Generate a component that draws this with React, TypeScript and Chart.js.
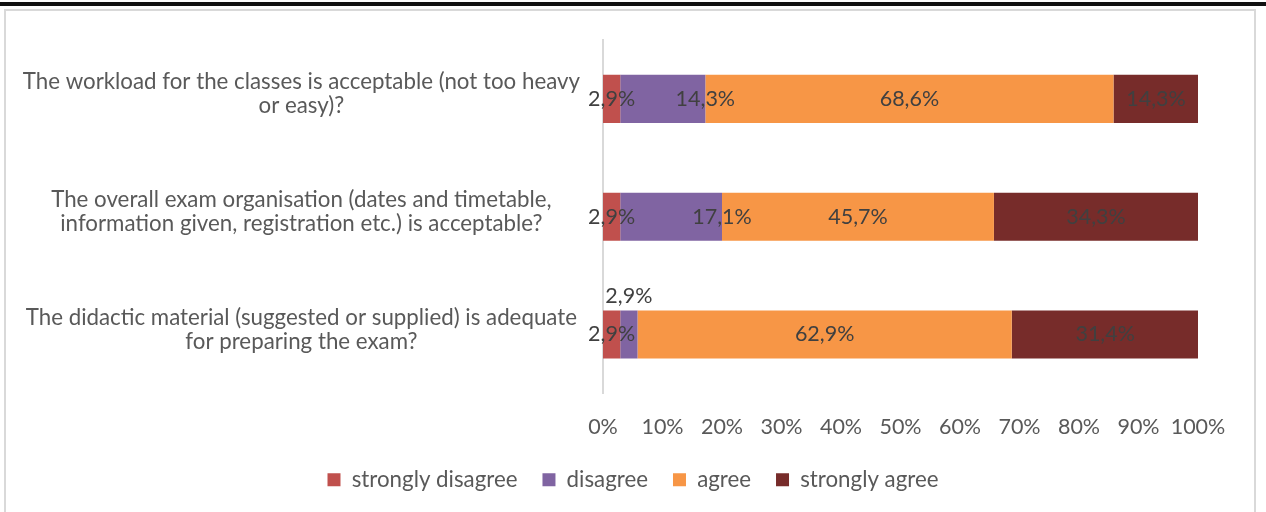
import React, { useEffect, useRef } from "react";
import { Chart, registerables } from "chart.js";

Chart.register(...registerables);

const categories: string[][] = [
  ["The workload for the classes is acceptable (not too heavy", "or easy)?"],
  ["The overall exam organisation (dates and timetable,", "information given, registration etc.) is acceptable?"],
  ["The didactic material (suggested or supplied) is adequate", "for preparing the exam?"],
];
const stronglyDisagree = [2.9, 2.9, 2.9];
const disagree = [14.3, 17.1, 2.9];
const agree = [68.6, 45.7, 62.9];
const stronglyAgree = [14.3, 34.3, 31.4];
const seriesNames = ["strongly disagree", "disagree", "agree", "strongly agree"];
const seriesColors = ["#C0504D", "#8064A2", "#F79646", "#772C2A"];

const FONT = "Lato";
const TEXT = "#595959";
const LABEL = "#404040";
const AXIS_LEFT = 603;

const fmt = (v: number) => v.toFixed(1).replace(".", ",") + "%";

const labelPlugin = {
  id: "barLabels",
  beforeDraw(chart: any) {
    // centre the legend on the whole canvas rather than the padded area
    const lg = chart.legend;
    if (lg) {
      lg.left = 0;
      lg.right = chart.width;
      lg.width = chart.width;
    }
  },
  afterDatasetsDraw(chart: any) {
    const ctx = chart.ctx;
    ctx.save();
    ctx.font = `21.5px ${FONT}`;
    ctx.fillStyle = LABEL;
    ctx.textAlign = "center";
    ctx.textBaseline = "middle";
    chart.data.datasets.forEach((ds: any, di: number) => {
      const meta = chart.getDatasetMeta(di);
      meta.data.forEach((bar: any, j: number) => {
        const v = ds.data[j];
        const text = fmt(v);
        const { x, base, y, height } = bar.getProps(["x", "base", "y", "height"], true);
        const w = Math.abs(x - base);
        const tw = ctx.measureText(text).width;
        let cx = (x + base) / 2;
        let cy = y;
        if (ds.labelMode === "end") {
          if (w > tw) cx = x;
          else cy = y - height / 2 - 14;
        }
        ctx.fillText(text, cx, cy);
      });
    });
    ctx.restore();
  },
};

export default function App() {
  const ref = useRef<HTMLCanvasElement | null>(null);
  useEffect(() => {
    if (!ref.current) return;
    const series = [stronglyDisagree, disagree, agree, stronglyAgree];
    const chart = new Chart(ref.current, {
      type: "bar",
      data: {
        labels: categories,
        datasets: series.map((d, i) => ({
          label: seriesNames[i],
          data: d,
          backgroundColor: seriesColors[i],
          borderWidth: 0,
          categoryPercentage: 1,
          barPercentage: 0.408,
          labelMode: i === 1 ? "end" : "center",
        })) as any,
      },
      options: {
        indexAxis: "y",
        responsive: false,
        animation: false,
        layout: { padding: { top: 40, right: 68, bottom: 39, left: 0 } },
        scales: {
          x: {
            stacked: true,
            min: 0,
            max: 100,
            grid: { display: false, drawTicks: false },
            border: { display: false },
            ticks: {
              stepSize: 10,
              padding: 21,
              maxRotation: 0,
              minRotation: 0,
              autoSkip: false,
              color: TEXT,
              font: { family: FONT, size: 21.5 },
              callback: (v: any) => v + "%",
            },
            afterFit: (s: any) => {
              s.height = 50.4;
            },
          },
          y: {
            stacked: true,
            grid: { display: false, drawTicks: false },
            border: { display: true, color: "#D9D9D9", width: 2 },
            ticks: {
              padding: 23,
              crossAlign: "center",
              labelOffset: -5,
              color: TEXT,
              font: { family: FONT, size: 22.3, lineHeight: 1.08 },
            },
            afterFit: (s: any) => {
              s.width = AXIS_LEFT;
              s.paddingTop = 0;
              s.paddingBottom = 0;
            },
          },
        },
        plugins: {
          legend: {
            position: "bottom",
            labels: {
              boxWidth: 13,
              boxHeight: 13,
              padding: 25,
              color: TEXT,
              font: { family: FONT, size: 22.3 },
            },
          },
          tooltip: { enabled: false },
        },
      },
      plugins: [labelPlugin],
    });
    return () => chart.destroy();
  }, []);

  return (
    <div
      style={{
        position: "fixed",
        left: 0,
        top: 0,
        width: 1266,
        height: 512,
        overflow: "hidden",
        background: "#fff",
      }}
    >
      <div style={{ position: "absolute", left: 0, top: 2, width: 1266, height: 4, background: "#111" }} />
      <div
        style={{
          position: "absolute",
          left: 4,
          top: 9,
          width: 1248,
          height: 540,
          border: "2px solid #D9D9D9",
        }}
      />
      <canvas
        ref={ref}
        width={1266}
        height={540}
        style={{ position: "absolute", left: 0, top: 0, width: 1266, height: 540 }}
      />
    </div>
  );
}
